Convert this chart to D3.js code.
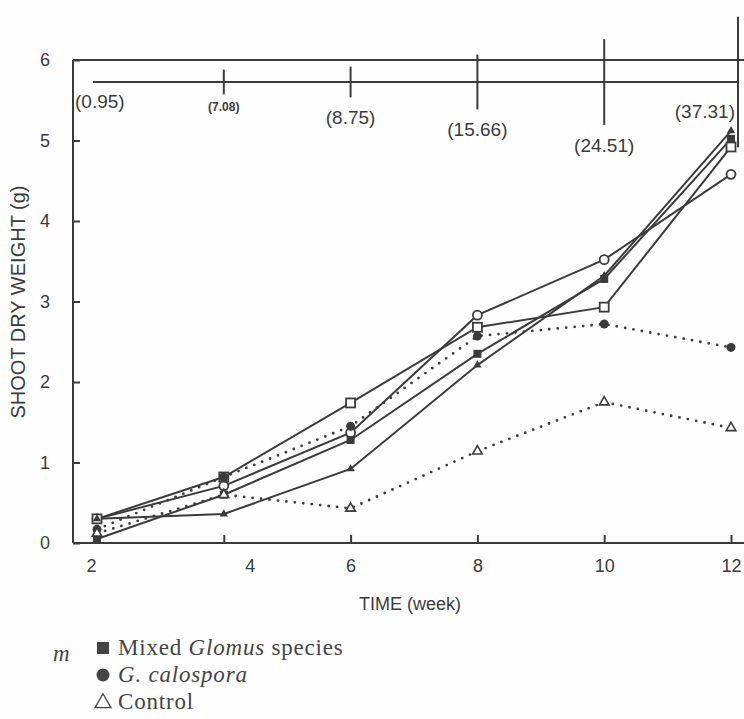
<!DOCTYPE html>
<html>
<head>
<meta charset="utf-8">
<script src="https://cdn.jsdelivr.net/npm/d3@7"></script>
<style>
  html, body { margin: 0; padding: 0; background: #fefefe; }
  svg { display: block; }
</style>
</head>
<body>
<svg id="chart" width="744" height="719"></svg>
<script>
// ---- data ----
const weeks = [2, 4, 6, 8, 10, 12];
const openCircleValues     = [0.30, 0.71, 1.37, 2.83, 3.52, 4.58];
const openSquareValues     = [0.30, 0.82, 1.74, 2.68, 2.93, 4.92];
const filledTriangleValues = [0.30, 0.36, 0.92, 2.21, 3.32, 5.12];
const mixedGlomusValues    = [0.05, 0.60, 1.28, 2.35, 3.28, 5.02];
const calosporaValues      = [0.17, 0.82, 1.45, 2.57, 2.72, 2.43];
const controlValues        = [0.12, 0.60, 0.43, 1.14, 1.75, 1.43];
const lsdValues = [0.95, 7.08, 8.75, 15.66, 24.51, 37.31];
const yTicks = [0, 1, 2, 3, 4, 5, 6];
const xTicks = [2, 4, 6, 8, 10, 12];
const legendItems = [
  { marker: "filledSquare", parts: [["Mixed ", "normal"], ["Glomus", "italic"], [" species", "normal"]] },
  { marker: "filledCircle", parts: [["G. calospora", "italic"]] },
  { marker: "openTriangle", parts: [["Control", "normal"]] }
];

const series = [
  { values: openCircleValues, marker: "openCircle", dotted: false },
  { values: openSquareValues, marker: "openSquare", dotted: false },
  { values: filledTriangleValues, marker: "filledTriangle", dotted: false },
  { values: mixedGlomusValues, marker: "filledSquare", dotted: false },
  { values: calosporaValues, marker: "filledCircle", dotted: true },
  { values: controlValues, marker: "openTriangle", dotted: true }
];

(function () {
// ---- layout ----
const ink = "#3b3b3b";
const sans = "'Liberation Sans', Arial, Helvetica, sans-serif";
const serif = "'Liberation Serif', 'Times New Roman', serif";
const svg = d3.select("#chart");
const plotLeft = 73, plotRight = 744, plotTop = 60, plotBottom = 543;

const x = d3.scaleLinear().domain([2, 12]).range([97, 731]);
const y = d3.scaleLinear().domain([0, 6]).range([plotBottom, plotTop]);
const lsdLen = d3.scaleLinear().domain([0, 40]).range([0, 140]);

// frame
svg.append("line").attr("x1", plotLeft).attr("x2", plotLeft).attr("y1", plotTop).attr("y2", plotBottom)
  .attr("stroke", ink).attr("stroke-width", 2);
svg.append("line").attr("x1", plotLeft).attr("x2", plotRight).attr("y1", plotBottom).attr("y2", plotBottom)
  .attr("stroke", ink).attr("stroke-width", 2);
svg.append("line").attr("x1", plotLeft).attr("x2", plotRight).attr("y1", plotTop).attr("y2", plotTop)
  .attr("stroke", ink).attr("stroke-width", 2);

// y axis
const yAxis = d3.axisLeft(y).tickValues(yTicks).tickSize(-7).tickPadding(20).tickFormat(d3.format("d"));
const gy = svg.append("g").attr("transform", `translate(${plotLeft},0)`).call(yAxis);
gy.select(".domain").remove();
gy.selectAll(".tick line").attr("stroke", ink).attr("stroke-width", 2);
gy.selectAll(".tick text").attr("fill", ink).attr("font-family", sans).attr("font-size", 18)
  .attr("text-anchor", "middle").attr("x", -28);

// x axis
const xLabelShift = { 2: -6, 4: 26 };
const xAxis = d3.axisBottom(x).tickValues(xTicks).tickSize(-8).tickPadding(16).tickFormat(d3.format("d"));
const gx = svg.append("g").attr("transform", `translate(0,${plotBottom})`).call(xAxis);
gx.select(".domain").remove();
gx.selectAll(".tick line").attr("stroke", ink).attr("stroke-width", 2);
gx.selectAll(".tick text").attr("fill", ink).attr("font-family", sans).attr("font-size", 18)
  .attr("dx", d => xLabelShift[d] || 0);

// axis titles
svg.append("text").attr("x", 410).attr("y", 610).attr("text-anchor", "middle")
  .attr("font-family", sans).attr("font-size", 18).attr("fill", ink).text("TIME (week)");
svg.append("text").attr("transform", "translate(25,302) rotate(-90)").attr("text-anchor", "middle")
  .attr("font-family", sans).attr("font-size", 20).attr("fill", ink).text("SHOOT DRY WEIGHT (g)");

// LSD bars
const lsdY = 82;
const lsdX = (i) => x(weeks[i]) + (i === weeks.length - 1 ? 7 : 0);
svg.append("line").attr("x1", x(weeks[0]) - 4).attr("x2", lsdX(weeks.length - 1))
  .attr("y1", lsdY).attr("y2", lsdY).attr("stroke", ink).attr("stroke-width", 2);
lsdValues.forEach((v, i) => {
  const h = lsdLen(v) / 2;
  if (i > 0) {
    svg.append("line").attr("x1", lsdX(i)).attr("x2", lsdX(i))
      .attr("y1", lsdY - h).attr("y2", lsdY + h).attr("stroke", ink).attr("stroke-width", 2);
  }
  const t = svg.append("text").attr("font-family", sans).attr("fill", ink).text(`(${v.toFixed(2)})`);
  if (i === 0) {
    t.attr("x", plotLeft + 2).attr("y", lsdY + 26).attr("font-size", 19);
  } else if (i === weeks.length - 1) {
    t.attr("x", lsdX(i) - 3).attr("y", 118).attr("text-anchor", "end").attr("font-size", 19);
  } else if (i === 1) {
    t.attr("x", lsdX(i)).attr("y", lsdY + h + 17).attr("text-anchor", "middle")
      .attr("font-size", 12).attr("font-weight", "bold");
  } else {
    t.attr("x", lsdX(i)).attr("y", lsdY + h + 27).attr("text-anchor", "middle").attr("font-size", 19);
  }
});

// series lines
const line = d3.line().x((d, i) => x(weeks[i])).y(d => y(d));
series.forEach(s => {
  svg.append("path").datum(s.values).attr("d", line).attr("fill", "none")
    .attr("stroke", ink)
    .attr("stroke-width", s.dotted ? 2.8 : 2)
    .attr("stroke-linecap", s.dotted ? "round" : "butt")
    .attr("stroke-dasharray", s.dotted ? "0,8.5" : null);
});

// markers
function drawMarker(g, type, cx, cy) {
  switch (type) {
    case "openCircle":
      g.append("circle").attr("cx", cx).attr("cy", cy).attr("r", 4.5)
        .attr("fill", "#fff").attr("stroke", ink).attr("stroke-width", 1.8);
      break;
    case "openSquare":
      g.append("rect").attr("x", cx - 4.5).attr("y", cy - 4.5).attr("width", 9).attr("height", 9)
        .attr("fill", "#fff").attr("stroke", ink).attr("stroke-width", 1.8);
      break;
    case "filledSquare":
      g.append("rect").attr("x", cx - 4).attr("y", cy - 4).attr("width", 8).attr("height", 8)
        .attr("fill", ink);
      break;
    case "filledCircle":
      g.append("circle").attr("cx", cx).attr("cy", cy).attr("r", 4.5).attr("fill", ink);
      break;
    case "filledTriangle":
      g.append("path").attr("d", d3.symbol(d3.symbolTriangle, 30)()).attr("transform", `translate(${cx},${cy})`)
        .attr("fill", ink);
      break;
    case "openTriangle":
      g.append("path").attr("d", d3.symbol(d3.symbolTriangle, 40)()).attr("transform", `translate(${cx},${cy})`)
        .attr("fill", "#fff").attr("stroke", ink).attr("stroke-width", 1.6);
      break;
  }
}
const mg = svg.append("g");
series.forEach(s => {
  s.values.forEach((v, i) => drawMarker(mg, s.marker, x(weeks[i]), y(v)));
});

// legend
const lg = svg.append("g");
legendItems.forEach((item, i) => {
  const ly = 648 + i * 27;
  if (item.marker === "filledSquare") {
    lg.append("rect").attr("x", 97).attr("y", ly - 6).attr("width", 12).attr("height", 12).attr("fill", "#444");
  } else if (item.marker === "filledCircle") {
    lg.append("circle").attr("cx", 103).attr("cy", ly).attr("r", 6.5).attr("fill", "#444");
  } else {
    lg.append("path").attr("d", d3.symbol(d3.symbolTriangle, 110)()).attr("transform", `translate(103,${ly + 1})`)
      .attr("fill", "none").attr("stroke", "#444").attr("stroke-width", 1.3);
  }
  const t = lg.append("text").attr("x", 118).attr("y", ly + 7).attr("font-family", serif)
    .attr("font-size", 23).attr("letter-spacing", 0.8).attr("fill", "#444");
  item.parts.forEach(p => t.append("tspan").attr("font-style", p[1]).text(p[0]));
});
// fragment of the cropped left-hand legend column
svg.append("text").attr("x", 53).attr("y", 661).attr("font-family", serif).attr("font-size", 23)
  .attr("font-style", "italic").attr("fill", "#444").text("m");
})();
</script>
</body>
</html>
